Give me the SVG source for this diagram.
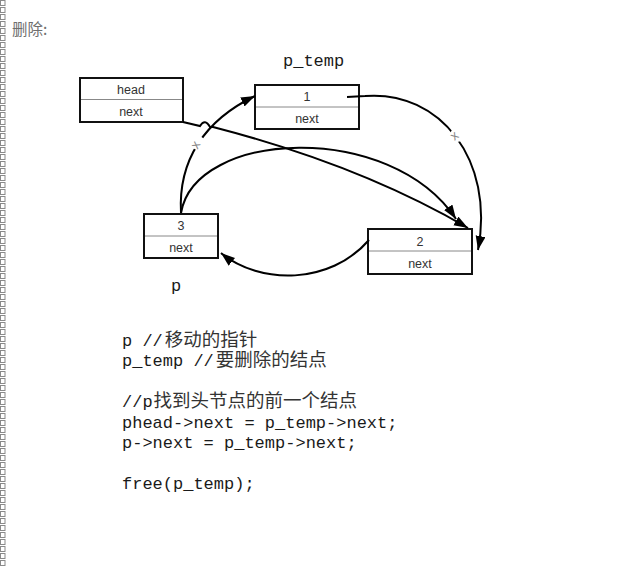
<svg xmlns="http://www.w3.org/2000/svg" width="621" height="567" viewBox="0 0 621 567">
  <defs>
    <pattern id="strip" x="0" y="0" width="7" height="7" patternUnits="userSpaceOnUse">
      <rect x="0.5" y="0.5" width="4.5" height="5" fill="#fff" stroke="#8a8a8a" stroke-width="1"/>
    </pattern>
    <marker id="ah" markerUnits="userSpaceOnUse" markerWidth="16" markerHeight="12" refX="14" refY="5" orient="auto">
      <path d="M0,0 L14,5 L0,10 z" fill="#000"/>
    </marker>
  </defs>
  <style>
    .box { fill: #fff; stroke: #111; stroke-width: 2; }
    .div { stroke: #888; stroke-width: 1; }
    .lbl { font-family: "Liberation Sans", Arial, sans-serif; font-size: 12.5px; fill: #333; text-anchor: middle; }
    .code { font-family: "Liberation Mono", "Noto Sans CJK SC", monospace; font-size: 17px; fill: #1a1a1a; }
    .cjk { font-family: "Noto Sans CJK SC", sans-serif; font-size: 18.5px; fill: #333; }
    .edge { fill: none; stroke: #000; stroke-width: 2; }
    .xm { font-family: "Liberation Sans", Arial, sans-serif; font-size: 13px; fill: #888; text-anchor: middle; }
  </style>
  <rect width="621" height="567" fill="#fff"/>
  <rect x="0" y="0" width="6" height="567" fill="url(#strip)"/>

  <text x="12" y="35" font-family="'Noto Sans CJK SC', sans-serif" font-size="15.5" fill="#6e6e6e">删除:</text>

  <g id="node-head">
    <rect class="box" x="80" y="78" width="103" height="44"/>
    <line class="div" x1="81" y1="99.5" x2="182" y2="99.5"/>
    <text class="lbl" x="131" y="94">head</text>
    <text class="lbl" x="131" y="116">next</text>
  </g>
  <g id="node-1">
    <rect class="box" x="255" y="85" width="104" height="44"/>
    <line class="div" x1="256" y1="107" x2="358" y2="107"/>
    <text class="lbl" x="307" y="101">1</text>
    <text class="lbl" x="307" y="123">next</text>
  </g>
  <g id="node-3">
    <rect class="box" x="144" y="214" width="74" height="44"/>
    <line class="div" x1="145" y1="236" x2="217" y2="236"/>
    <text class="lbl" x="181" y="230">3</text>
    <text class="lbl" x="181" y="252">next</text>
  </g>
  <g id="node-2">
    <rect class="box" x="368" y="229" width="104" height="45"/>
    <line class="div" x1="369" y1="251" x2="471" y2="251"/>
    <text class="lbl" x="420" y="246">2</text>
    <text class="lbl" x="420" y="268">next</text>
  </g>

  <g id="connectors">
    <path class="edge" d="M181,213 C178,160 205,120 255,96" marker-end="url(#ah)"/>
    <path class="edge" d="M183,122 L200,126 Q205,118 210,127 L213,127 Q360,165 468,228" marker-end="url(#ah)"/>
    <path class="edge" d="M181,213 C195,130 390,120 456,219" marker-end="url(#ah)"/>
    <path class="edge" d="M347,97 L365,96 C440,90 495,160 478,250" marker-end="url(#ah)"/>
    <path class="edge" d="M369,240 C330,285 260,285 221,253" marker-end="url(#ah)"/>
    <circle cx="198" cy="143" r="7" fill="#fff"/>
    <text class="xm" transform="translate(199,147) rotate(-60)">x</text>
    <circle cx="457" cy="135" r="7" fill="#fff"/>
    <text class="xm" transform="translate(457,139) rotate(-40)">x</text>
  </g>

  <text class="code" x="283" y="66">p_temp</text>
  <text class="code" x="171" y="291">p</text>

  <text class="code" x="122" y="346">p //<tspan class="cjk" dx="2">移动的指针</tspan></text>
  <text class="code" x="122" y="366">p_temp //<tspan class="cjk" dx="2">要删除的结点</tspan></text>
  <text class="code" x="122" y="407">//p<tspan class="cjk" dx="1">找到头节点的前一个结点</tspan></text>
  <text class="code" x="122" y="428">phead-&gt;next = p_temp-&gt;next;</text>
  <text class="code" x="122" y="448">p-&gt;next = p_temp-&gt;next;</text>
  <text class="code" x="122" y="489">free(p_temp);</text>
</svg>
